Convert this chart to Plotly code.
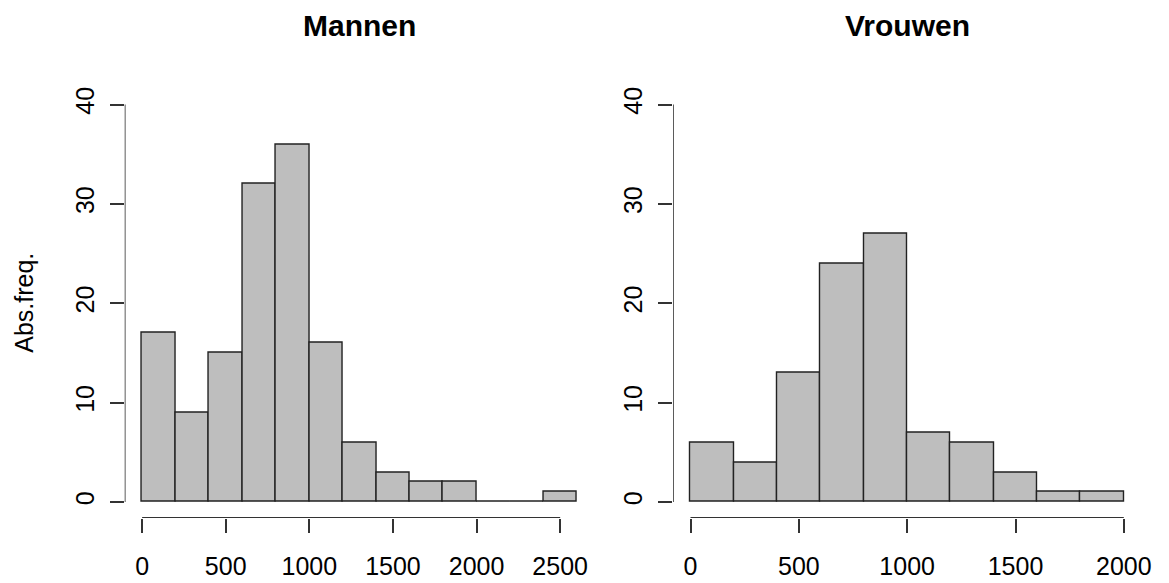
import plotly.graph_objects as go

# ---- data ----
bin_width = 200
men_counts = [17, 9, 15, 32, 36, 16, 6, 3, 2, 2, 0, 0, 1]
women_counts = [6, 4, 13, 24, 27, 7, 6, 3, 1, 1]
men_xticks = [0, 500, 1000, 1500, 2000, 2500]
women_xticks = [0, 500, 1000, 1500, 2000]
y_ticks = [0, 10, 20, 30, 40]
titles = ["Mannen", "Vrouwen"]
y_label = "Abs.freq."

W, H = 1169, 583
FONT = "Liberation Sans, Arial, sans-serif"
BAR_FILL = "#BEBEBE"
LINE_COL = "#222222"
AX_COL = "#333333"

def centers(counts):
    return [bin_width * (i + 0.5) for i in range(len(counts))]

fig = go.Figure()
fig.add_trace(go.Bar(x=centers(men_counts), y=men_counts, width=bin_width,
                     marker=dict(color=BAR_FILL, line=dict(color=LINE_COL, width=1.4)),
                     xaxis="x", yaxis="y", showlegend=False, hoverinfo="x+y"))
fig.add_trace(go.Bar(x=centers(women_counts), y=women_counts, width=bin_width,
                     marker=dict(color=BAR_FILL, line=dict(color=LINE_COL, width=1.4)),
                     xaxis="x2", yaxis="y2", showlegend=False, hoverinfo="x+y"))

# plot regions (pixel -> paper)
ybot = 1 - 517.7 / H
ytop = 1 - 87 / H
left_dom = [125.8 / W, 599.4 / W]
right_dom = [679 / W, 1151 / W]

men_max = bin_width * len(men_counts)
women_max = bin_width * len(women_counts)
men_rng = [-0.04 * men_max, 1.04 * men_max]
women_rng = [-0.04 * women_max, 1.04 * women_max]
y_rng = [-0.04 * 40, 1.04 * 40]

tickfont = dict(family=FONT, size=25, color="#000000")

def xax(dom, rng, ticks, anchor):
    return dict(domain=dom, range=rng, tickvals=ticks, ticktext=[str(t) for t in ticks],
                ticks="outside", ticklen=14, tickwidth=1.5, tickcolor=AX_COL,
                showline=False, showgrid=False, zeroline=False, tickfont=tickfont,
                ticklabelstandoff=12, anchor=anchor, fixedrange=True)

def yax(rng, anchor):
    return dict(domain=[ybot, ytop], range=rng, tickvals=y_ticks,
                ticktext=[str(t) for t in y_ticks], tickangle=-90,
                ticks="outside", ticklen=14, tickwidth=1.5, tickcolor=AX_COL,
                showline=False, showgrid=False, zeroline=False, tickfont=tickfont,
                ticklabelstandoff=6, anchor=anchor, fixedrange=True)

fig.update_layout(
    width=W, height=H, autosize=False,
    margin=dict(l=0, r=0, t=0, b=0),
    paper_bgcolor="white", plot_bgcolor="white",
    bargap=0,
    xaxis=xax(left_dom, men_rng, men_xticks, "y"),
    yaxis=yax(y_rng, "x"),
    xaxis2=xax(right_dom, women_rng, women_xticks, "y2"),
    yaxis2=yax(y_rng, "x2"),
    font=dict(family=FONT, color="#000000"),
)

# axis lines spanning only tick range (R style)
for xr, yr, xt, rng in [("x", "y", men_xticks, men_rng), ("x2", "y2", women_xticks, women_rng)]:
    fig.add_shape(type="line", xref=xr, yref=yr, x0=xt[0], x1=xt[-1], y0=y_rng[0], y1=y_rng[0],
                  line=dict(color=AX_COL, width=1.6))
    fig.add_shape(type="line", xref=xr, yref=yr, x0=rng[0], x1=rng[0], y0=y_ticks[0], y1=y_ticks[-1],
                  line=dict(color=AX_COL, width=1.6))

# titles
for dom, t in [(left_dom, titles[0]), (right_dom, titles[1])]:
    fig.add_annotation(text="<b>%s</b>" % t, x=(dom[0] + dom[1]) / 2, y=1 - 24 / H,
                       xref="paper", yref="paper", showarrow=False,
                       xanchor="center", yanchor="middle",
                       font=dict(family=FONT, size=30, color="#000000"))

# y label
fig.add_annotation(text=y_label, x=24 / W, y=1 - 302 / H, xref="paper", yref="paper",
                   showarrow=False, textangle=-90, xanchor="center", yanchor="middle",
                   font=dict(family=FONT, size=25, color="#000000"))

fig.write_html("out.html", config={"displayModeBar": False, "responsive": False},
               post_script="document.body.style.margin='0';document.body.style.overflow='hidden';")
